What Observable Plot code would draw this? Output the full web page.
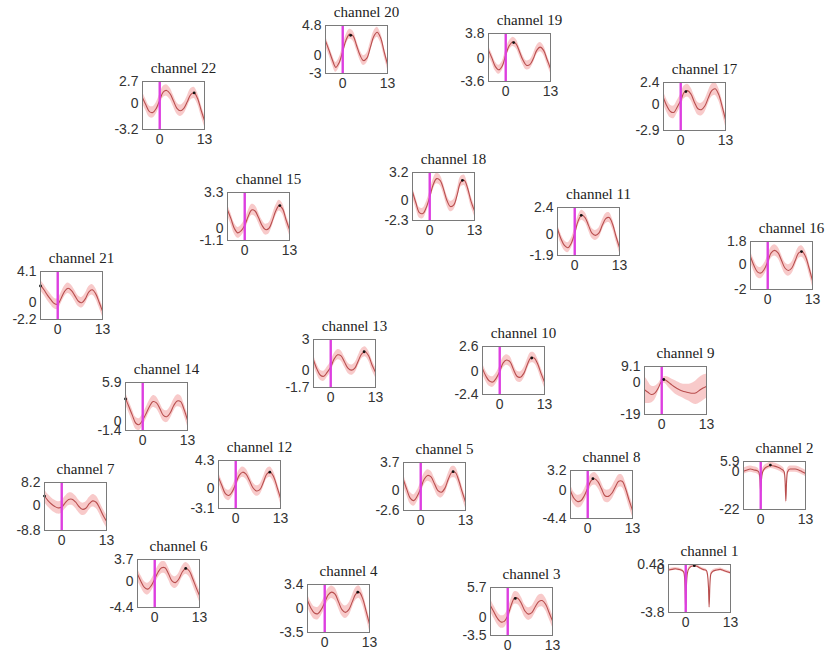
<!DOCTYPE html>
<html><head><meta charset="utf-8">
<script src="https://cdn.jsdelivr.net/npm/d3@7"></script>
<script src="https://cdn.jsdelivr.net/npm/@observablehq/plot@0.6"></script>
<style>
body{margin:0;background:#fff;}
#wrap{position:relative;width:828px;height:659px;overflow:hidden;background:#fff;}
.panel{position:absolute;}
</style></head><body><div id="wrap"></div>
<script>
// ---------- DATA ----------
const channels = [1,2,3,4,5,6,7,8,9,10,11,12,13,14,15,16,17,18,19,20,21,22];
const time = [-5,-4,-3,-2,-1,0,1,2,3,4,5,6,7,8,9,10,11,12,13];
const ch1Time = [-5,-4,-3,-2,-1,-0.5,-0.2,0,0.2,0.5,1,2,3,4,5,6,6.3,6.6,6.8,7.0,7.3,8,9,10,11,12,13];
const ch2Time = [-5,-4,-3,-2,-1,-0.5,-0.2,0,0.2,0.5,1,2,3,4,5,6,6.8,7.1,7.3,7.5,7.8,8.5,10,11,12,13];

const ch1Mean  = [-0.05,0,0.05,0,-0.1,-0.3,-1.5,-3.7,-1.5,-0.3,0.1,0.3,0.3,0.15,0,-0.1,-0.4,-1.5,-3.3,-1.5,-0.4,-0.15,-0.05,0,-0.1,-0.2,-0.3];
const ch2Mean  = [0.2,1.0,1.5,1.0,0.5,-0.5,-5,-12,-5,-0.5,1.5,3.0,3.6,3.2,2.5,1.5,0,-6,-17,-6,0,1.5,1.5,1.0,0,-1.0];
const ch3Mean  = [2.2,1.0,-0.2,-0.9,-0.8,0.3,2.3,3.7,3.6,2.6,1.2,0.6,0.9,2.0,3.0,3.2,2.5,0.9,-0.7];
const ch4Mean  = [1.1,0.0,-0.7,-0.8,-0.2,0.8,1.9,2.3,2.0,0.9,-0.2,-0.6,-0.2,0.9,2.0,2.3,1.4,-0.4,-2.3];
const ch5Mean  = [1.4,0.1,-1.0,-1.3,-0.7,0.3,1.5,2.0,1.8,0.9,0.0,-0.2,0.3,1.5,2.4,2.4,1.4,-0.1,-1.5];
const ch6Mean  = [1.2,0.0,-1.0,-1.3,-0.7,0.4,1.6,2.3,2.3,1.3,0.1,-0.2,0.4,1.6,2.2,1.8,0.5,-1.0,-2.4];
const ch7Mean  = [3.4,1.8,0.6,-0.3,-0.8,-0.5,1.0,2.2,2.3,1.3,-0.3,-1.3,-0.9,0.7,1.7,1.2,-0.8,-3.4,-5.5];
const ch8Mean  = [0.0,-1.2,-1.7,-1.6,-0.8,0.4,1.6,1.9,1.4,0.3,-0.8,-0.9,-0.4,0.6,1.5,1.5,0.3,-1.5,-3.1];
const ch9Mean  = [-4.5,-6,-7.3,-6.5,-3.5,0.5,1.2,-0.2,-1.8,-3.2,-4.3,-5.2,-5.8,-6.3,-6.6,-6.2,-4.8,-3.5,-2.5];
const ch10Mean = [0.3,-0.5,-1.0,-1.1,-0.7,0.0,0.9,1.2,1.0,0.2,-0.5,-0.6,-0.2,0.7,1.4,1.4,0.8,-0.2,-1.1];
const ch11Mean = [0.5,-0.4,-1.0,-1.2,-0.8,0.1,1.2,1.7,1.5,0.8,0.1,-0.1,0.1,0.8,1.4,1.5,0.9,-0.2,-1.2];
const ch12Mean = [1.7,0.4,-0.8,-1.1,-0.5,0.7,2.0,2.5,2.2,1.2,0.1,-0.4,-0.2,0.9,2.2,2.5,1.8,0.2,-1.5];
const ch13Mean = [1.0,0.1,-0.5,-0.6,-0.2,0.3,1.1,1.5,1.4,0.8,0.2,0.0,0.2,0.9,1.6,1.8,1.4,0.5,-0.2];
const ch14Mean = [3.5,2.2,0.9,-0.3,-0.5,0.2,1.2,2.3,3.0,2.8,1.9,0.9,0.7,1.3,2.4,3.1,3.0,1.8,0.2];
const ch15Mean = [1.7,0.9,0.0,-0.4,-0.2,0.3,1.1,1.7,1.6,1.0,0.3,-0.1,0.0,0.7,1.6,2.1,1.8,0.8,-0.1];
const ch16Mean = [0.6,-0.1,-0.6,-0.7,-0.4,0.2,0.9,1.1,0.9,0.3,-0.3,-0.5,-0.3,0.3,0.9,1.0,0.6,-0.3,-1.3];
const ch17Mean = [0.7,-0.2,-0.8,-0.9,-0.3,0.4,1.3,1.5,1.1,0.2,-0.5,-0.6,-0.2,0.7,1.5,1.7,1.1,-0.2,-1.7];
const ch18Mean = [1.0,-0.3,-1.4,-1.5,-0.8,0.4,1.8,2.5,2.3,1.3,0.0,-0.7,-0.5,0.7,2.1,2.3,1.4,-0.1,-1.2];
const ch19Mean = [1.2,0.0,-1.3,-1.8,-1.2,0.5,1.9,2.5,2.2,1.0,-0.3,-1.1,-1.0,-0.1,1.2,1.7,1.2,-0.2,-1.6];
const ch20Mean = [2.3,0.8,-0.8,-2.0,-1.2,0.6,2.5,3.4,3.1,1.6,0.0,-0.9,-0.5,1.2,3.0,3.7,2.8,0.6,-1.5];
const ch21Mean = [2.3,1.7,1.0,0.4,-0.1,-0.2,0.6,1.5,1.9,1.6,0.9,0.2,0.0,0.5,1.4,1.7,1.2,0.1,-1.1];
const ch22Mean = [0.7,-0.2,-1.0,-1.1,-0.6,0.4,1.4,1.6,1.2,0.3,-0.6,-0.9,-0.6,0.2,1.1,1.3,0.6,-0.8,-2.1];

// half-width of the shaded band (constant per channel, ch9 varies)
const bandHalfWidth = [0.12,1.8,1.2,0.9,0.75,1.0,2.2,1.0,null,0.55,0.45,0.8,0.5,0.9,0.5,0.45,0.7,0.6,0.7,0.8,0.7,0.7];
const ch9Band = [8,6.5,5,4,2.5,1.5,2,3,3.5,4,4,4,4.5,5,6,7,7.5,7.5,7];

const yMin = [-3.8,-22,-3.5,-3.5,-2.6,-4.4,-8.8,-4.4,-19,-2.4,-1.9,-3.1,-1.7,-1.4,-1.1,-2,-2.9,-2.3,-3.6,-3,-2.2,-3.2];
const yMax = [0.43,5.9,5.7,3.4,3.7,3.7,8.2,3.2,9.1,2.6,2.4,4.3,3,5.9,3.3,1.8,2.4,3.2,3.8,4.8,4.1,2.7];
const xTicks = [0, 13];

const peakX = [2.5,2.8,2.2,9.6,9.4,9.0,-5,1.5,0.6,9.3,1.9,9.9,9.7,-5,10.2,9.8,1.5,9.5,2.3,2.3,-5,10.0];
const peakY = [0.33,3.8,3.6,2.3,2.5,2.2,3.4,1.9,1.5,1.4,1.7,2.5,1.8,3.4,2.1,1.0,1.4,2.3,2.4,3.2,2.2,1.3];

// ---------- LAYOUT (box top-left corners) ----------
const boxLeft = [668,743,490,307,403,137,44,570,644,482,557,218,313,125,227,750,663,412,488,325,40,142];
const boxTop  = [564,461,587,584,462,559,482,470,366,346,207,460,339,382,192,241,82,172,33,25,271,81];

const means = [ch1Mean,ch2Mean,ch3Mean,ch4Mean,ch5Mean,ch6Mean,ch7Mean,ch8Mean,ch9Mean,ch10Mean,ch11Mean,
  ch12Mean,ch13Mean,ch14Mean,ch15Mean,ch16Mean,ch17Mean,ch18Mean,ch19Mean,ch20Mean,ch21Mean,ch22Mean];

const W = 62, H = 48, ML = 44, MR = 14, MT = 30, MB = 26;
const wrap = document.getElementById("wrap");

channels.forEach((ch, i) => {
  const t = ch === 1 ? ch1Time : ch === 2 ? ch2Time : time;
  const m = means[i];
  const rows = t.map((x, k) => {
    const hw = ch === 9 ? ch9Band[k] : bandHalfWidth[i];
    return {x, y: m[k], lo: m[k] - hw, hi: m[k] + hw};
  });
  const curve = (ch === 1 || ch === 2) ? "monotone-x" : "catmull-rom";
  const yt = [yMin[i], 0, yMax[i]];
  const chart = Plot.plot({
    width: ML + W + MR, height: MT + H + MB,
    marginLeft: ML, marginRight: MR, marginTop: MT, marginBottom: MB,
    x: {domain: [-5, 13], axis: null},
    y: {domain: [yMin[i], yMax[i]], axis: null},
    style: {background: "transparent", overflow: "visible", fontFamily: "Liberation Sans"},
    marks: [
      Plot.areaY(rows, {x: "x", y1: "lo", y2: "hi", fill: "#f5b8b8", fillOpacity: 0.75, curve, clip: true}),
      Plot.line(rows, {x: "x", y: "y", stroke: "#b84e4e", strokeWidth: 1.1, curve, clip: true}),
      Plot.ruleX([0], {stroke: "#dd3ee0", strokeWidth: 2.4}),
      Plot.dot([0], {x: () => peakX[i], y: () => peakY[i], r: 1.4, fill: "#111", stroke: "none"}),
      Plot.frame({stroke: "#7a7a7a", strokeWidth: 1}),
      Plot.text(yt, {y: d => d, text: d => String(d), frameAnchor: "left", dx: -4, textAnchor: "end",
        fontSize: 14, fill: "#333"}),
      Plot.text(xTicks, {x: d => d, text: d => String(d), frameAnchor: "bottom", dy: 14,
        fontSize: 14, fill: "#333"}),
      Plot.text(["channel " + ch], {text: d => d, frameAnchor: "top", dx: 10, dy: -19,
        fontFamily: "Liberation Serif", fontSize: 15, fill: "#222"})
    ]
  });
  const div = document.createElement("div");
  div.className = "panel";
  div.style.left = (boxLeft[i] - ML) + "px";
  div.style.top = (boxTop[i] - MT) + "px";
  div.appendChild(chart);
  wrap.appendChild(div);
});
</script></body></html>
